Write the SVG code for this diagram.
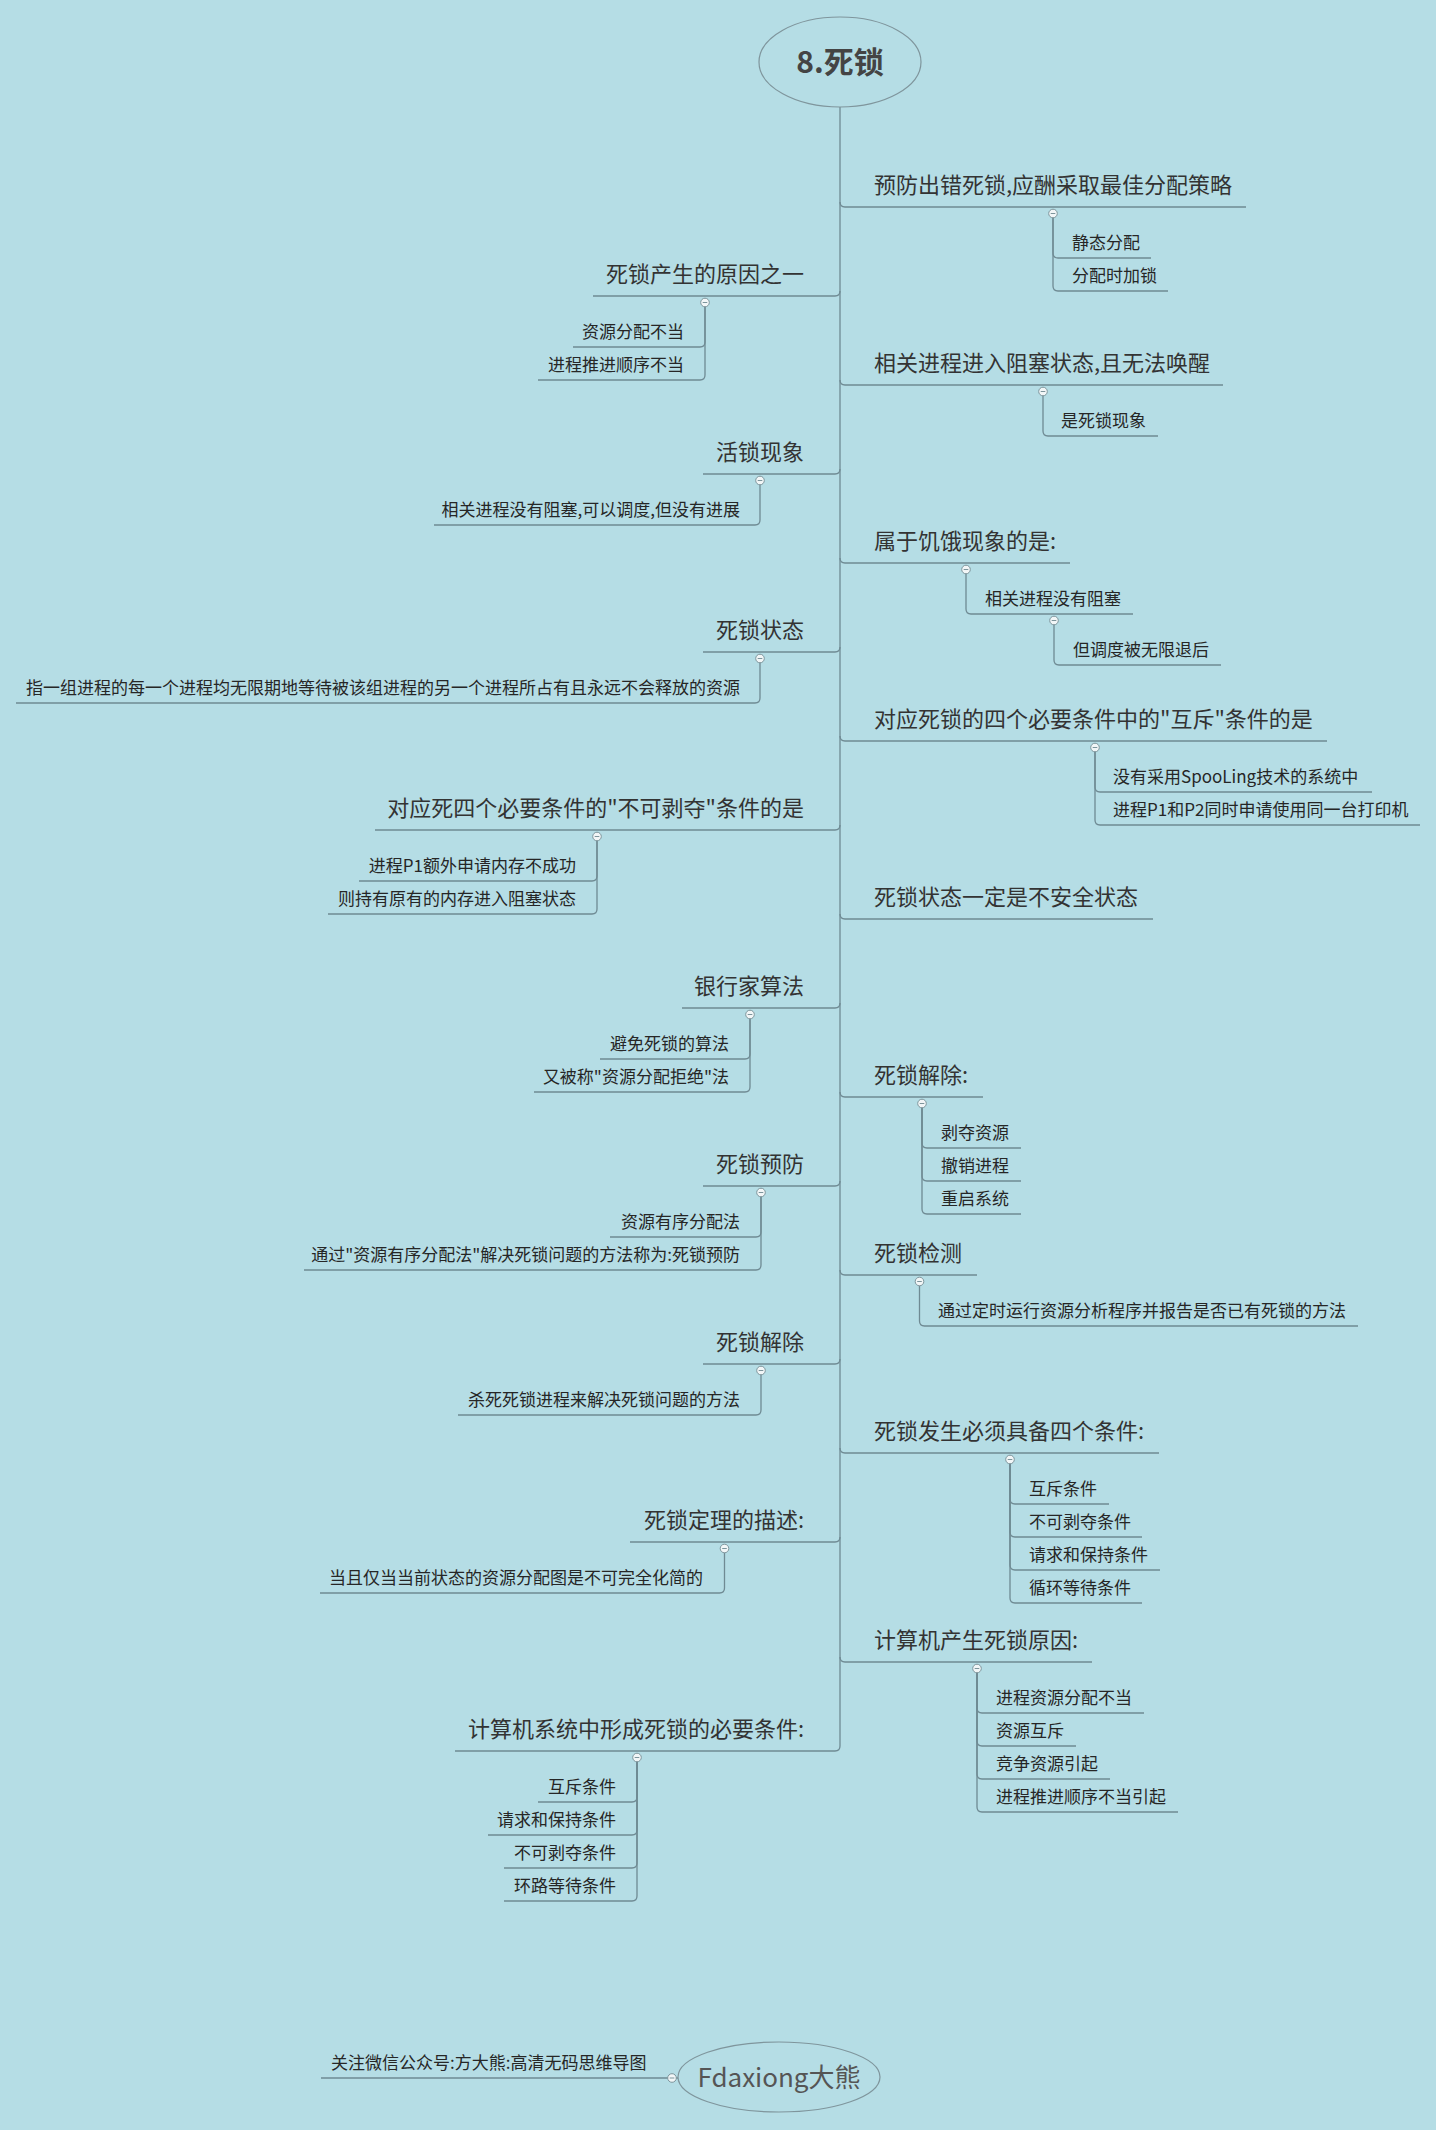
<svg xmlns="http://www.w3.org/2000/svg" xmlns:xlink="http://www.w3.org/1999/xlink" width="1436" height="2130" viewBox="0 0 1436 2130">
<defs>
<style>
text{font-family:"Noto Sans CJK SC","Microsoft YaHei",sans-serif;}
.m{font-size:22px;fill:#333;}
.c{font-size:17px;fill:#262626;}
.r{text-anchor:end;}
.ln{fill:none;stroke:#6f8a93;stroke-width:1.3;}
.root{font-size:30px;font-weight:bold;fill:#444;text-anchor:middle;}
.oval{fill:none;stroke:#7f959c;stroke-width:1.2;}
</style>
<g id="col"><circle r="4.3" fill="#f2f6f7" stroke="#7d959c" stroke-width="1"/><line x1="-2.3" y1="0" x2="2.3" y2="0" stroke="#7d959c" stroke-width="1"/></g>
</defs>
<rect width="1436" height="2130" fill="#b5dde5"/>

<g id="connectors" class="ln">
<path d="M840,107V1746"/>
<path d="M840,202Q840,207 845,207H1246"/>
<path d="M840,380Q840,385 845,385H1223"/>
<path d="M840,558Q840,563 845,563H1070"/>
<path d="M840,736Q840,741 845,741H1327"/>
<path d="M840,914Q840,919 845,919H1153"/>
<path d="M840,1092Q840,1097 845,1097H983"/>
<path d="M840,1270Q840,1275 845,1275H977"/>
<path d="M840,1448Q840,1453 845,1453H1159"/>
<path d="M840,1657Q840,1662 845,1662H1092"/>
<path d="M840,291Q840,296 835,296H593"/>
<path d="M840,469Q840,474 835,474H703"/>
<path d="M840,647Q840,652 835,652H703"/>
<path d="M840,825Q840,830 835,830H375"/>
<path d="M840,1003Q840,1008 835,1008H682"/>
<path d="M840,1181Q840,1186 835,1186H703"/>
<path d="M840,1359Q840,1364 835,1364H703"/>
<path d="M840,1537Q840,1542 835,1542H630"/>
<path d="M840,1746Q840,1751 835,1751H455"/>
<path d="M1053,217V253Q1053,258 1058,258H1151"/>
<path d="M1053,217V286Q1053,291 1058,291H1168"/>
<path d="M1043,395V431Q1043,436 1048,436H1158"/>
<path d="M966,573V609Q966,614 971,614H1133"/>
<path d="M1054,624V660Q1054,665 1059,665H1221"/>
<path d="M1095,751V787Q1095,792 1100,792H1372"/>
<path d="M1095,751V820Q1095,825 1100,825H1420"/>
<path d="M922,1107V1143Q922,1148 927,1148H1021"/>
<path d="M922,1107V1176Q922,1181 927,1181H1021"/>
<path d="M922,1107V1209Q922,1214 927,1214H1021"/>
<path d="M919.5,1285V1321Q919.5,1326 924.5,1326H1358"/>
<path d="M1010,1463V1499Q1010,1504 1015,1504H1109"/>
<path d="M1010,1463V1532Q1010,1537 1015,1537H1142"/>
<path d="M1010,1463V1565Q1010,1570 1015,1570H1160"/>
<path d="M1010,1463V1598Q1010,1603 1015,1603H1142"/>
<path d="M977,1672V1708Q977,1713 982,1713H1144"/>
<path d="M977,1672V1741Q977,1746 982,1746H1076"/>
<path d="M977,1672V1774Q977,1779 982,1779H1110"/>
<path d="M977,1672V1807Q977,1812 982,1812H1178"/>
<path d="M705,306V342Q705,347 700,347H573"/>
<path d="M705,306V375Q705,380 700,380H538"/>
<path d="M760,484V520Q760,525 755,525H434"/>
<path d="M760,662V698Q760,703 755,703H16"/>
<path d="M597,840V876Q597,881 592,881H359"/>
<path d="M597,840V909Q597,914 592,914H328"/>
<path d="M750,1018V1054Q750,1059 745,1059H600"/>
<path d="M750,1018V1087Q750,1092 745,1092H534"/>
<path d="M761,1196V1232Q761,1237 756,1237H610"/>
<path d="M761,1196V1265Q761,1270 756,1270H304"/>
<path d="M761,1374V1410Q761,1415 756,1415H458"/>
<path d="M724.5,1552V1588Q724.5,1593 719.5,1593H320"/>
<path d="M637,1761V1797Q637,1802 632,1802H538"/>
<path d="M637,1761V1830Q637,1835 632,1835H488"/>
<path d="M637,1761V1863Q637,1868 632,1868H504"/>
<path d="M637,1761V1896Q637,1901 632,1901H504"/>
<path d="M678,2078H321"/>
</g>

<g id="root"><ellipse class="oval" cx="840" cy="62" rx="81" ry="45"/><text class="root" x="840" y="73">8.死锁</text></g>

<g id="r1"><text class="m" x="874" y="193">预防出错死锁,应酬采取最佳分配策略</text><use xlink:href="#col" x="1053" y="213.5"/></g>
<g id="r1a"><text class="c" x="1072" y="249">静态分配</text></g>
<g id="r1b"><text class="c" x="1072" y="282">分配时加锁</text></g>

<g id="r2"><text class="m" x="874" y="371">相关进程进入阻塞状态,且无法唤醒</text><use xlink:href="#col" x="1043" y="391.5"/></g>
<g id="r2a"><text class="c" x="1061" y="427">是死锁现象</text></g>

<g id="r3"><text class="m" x="874" y="549">属于饥饿现象的是:</text><use xlink:href="#col" x="966" y="569.5"/></g>
<g id="r3a"><text class="c" x="985" y="605">相关进程没有阻塞</text><use xlink:href="#col" x="1054" y="620.5"/></g>
<g id="r3a1"><text class="c" x="1073" y="656">但调度被无限退后</text></g>

<g id="r4"><text class="m" x="874" y="727">对应死锁的四个必要条件中的"互斥"条件的是</text><use xlink:href="#col" x="1095" y="747.5"/></g>
<g id="r4a"><text class="c" x="1113" y="783">没有采用SpooLing技术的系统中</text></g>
<g id="r4b"><text class="c" x="1113" y="816">进程P1和P2同时申请使用同一台打印机</text></g>

<g id="r5"><text class="m" x="874" y="905">死锁状态一定是不安全状态</text></g>

<g id="r6"><text class="m" x="874" y="1083">死锁解除:</text><use xlink:href="#col" x="922" y="1103.5"/></g>
<g id="r6a"><text class="c" x="941" y="1139">剥夺资源</text></g>
<g id="r6b"><text class="c" x="941" y="1172">撤销进程</text></g>
<g id="r6c"><text class="c" x="941" y="1205">重启系统</text></g>

<g id="r7"><text class="m" x="874" y="1261">死锁检测</text><use xlink:href="#col" x="919.5" y="1281.5"/></g>
<g id="r7a"><text class="c" x="938" y="1317">通过定时运行资源分析程序并报告是否已有死锁的方法</text></g>

<g id="r8"><text class="m" x="874" y="1439">死锁发生必须具备四个条件:</text><use xlink:href="#col" x="1010" y="1459.5"/></g>
<g id="r8a"><text class="c" x="1029" y="1495">互斥条件</text></g>
<g id="r8b"><text class="c" x="1029" y="1528">不可剥夺条件</text></g>
<g id="r8c"><text class="c" x="1029" y="1561">请求和保持条件</text></g>
<g id="r8d"><text class="c" x="1029" y="1594">循环等待条件</text></g>

<g id="r9"><text class="m" x="874" y="1648">计算机产生死锁原因:</text><use xlink:href="#col" x="977" y="1668.5"/></g>
<g id="r9a"><text class="c" x="996" y="1704">进程资源分配不当</text></g>
<g id="r9b"><text class="c" x="996" y="1737">资源互斥</text></g>
<g id="r9c"><text class="c" x="996" y="1770">竞争资源引起</text></g>
<g id="r9d"><text class="c" x="996" y="1803">进程推进顺序不当引起</text></g>

<g id="l1"><text class="m r" x="804" y="282">死锁产生的原因之一</text><use xlink:href="#col" x="705" y="302.5"/></g>
<g id="l1a"><text class="c r" x="684" y="338">资源分配不当</text></g>
<g id="l1b"><text class="c r" x="684" y="371">进程推进顺序不当</text></g>

<g id="l2"><text class="m r" x="804" y="460">活锁现象</text><use xlink:href="#col" x="760" y="480.5"/></g>
<g id="l2a"><text class="c r" x="740" y="516">相关进程没有阻塞,可以调度,但没有进展</text></g>

<g id="l3"><text class="m r" x="804" y="638">死锁状态</text><use xlink:href="#col" x="760" y="658.5"/></g>
<g id="l3a"><text class="c r" x="740" y="694">指一组进程的每一个进程均无限期地等待被该组进程的另一个进程所占有且永远不会释放的资源</text></g>

<g id="l4"><text class="m r" x="804" y="816">对应死四个必要条件的"不可剥夺"条件的是</text><use xlink:href="#col" x="597" y="836.5"/></g>
<g id="l4a"><text class="c r" x="576" y="872">进程P1额外申请内存不成功</text></g>
<g id="l4b"><text class="c r" x="576" y="905">则持有原有的内存进入阻塞状态</text></g>

<g id="l5"><text class="m r" x="804" y="994">银行家算法</text><use xlink:href="#col" x="750" y="1014.5"/></g>
<g id="l5a"><text class="c r" x="729" y="1050">避免死锁的算法</text></g>
<g id="l5b"><text class="c r" x="729" y="1083">又被称"资源分配拒绝"法</text></g>

<g id="l6"><text class="m r" x="804" y="1172">死锁预防</text><use xlink:href="#col" x="761" y="1192.5"/></g>
<g id="l6a"><text class="c r" x="740" y="1228">资源有序分配法</text></g>
<g id="l6b"><text class="c r" x="740" y="1261">通过"资源有序分配法"解决死锁问题的方法称为:死锁预防</text></g>

<g id="l7"><text class="m r" x="804" y="1350">死锁解除</text><use xlink:href="#col" x="761" y="1370.5"/></g>
<g id="l7a"><text class="c r" x="740" y="1406">杀死死锁进程来解决死锁问题的方法</text></g>

<g id="l8"><text class="m r" x="804" y="1528">死锁定理的描述:</text><use xlink:href="#col" x="724.5" y="1548.5"/></g>
<g id="l8a"><text class="c r" x="703" y="1584">当且仅当当前状态的资源分配图是不可完全化简的</text></g>

<g id="l9"><text class="m r" x="804" y="1737">计算机系统中形成死锁的必要条件:</text><use xlink:href="#col" x="637" y="1757.5"/></g>
<g id="l9a"><text class="c r" x="616" y="1793">互斥条件</text></g>
<g id="l9b"><text class="c r" x="616" y="1826">请求和保持条件</text></g>
<g id="l9c"><text class="c r" x="616" y="1859">不可剥夺条件</text></g>
<g id="l9d"><text class="c r" x="616" y="1892">环路等待条件</text></g>

<g id="sign"><ellipse class="oval" cx="779" cy="2077" rx="101" ry="35"/><text x="779" y="2087" font-size="26" fill="#555" text-anchor="middle">Fdaxiong大熊</text><use xlink:href="#col" x="672" y="2078"/></g>
<g id="sign-a"><text class="c" x="331" y="2069">关注微信公众号:方大熊:高清无码思维导图</text></g>
</svg>
